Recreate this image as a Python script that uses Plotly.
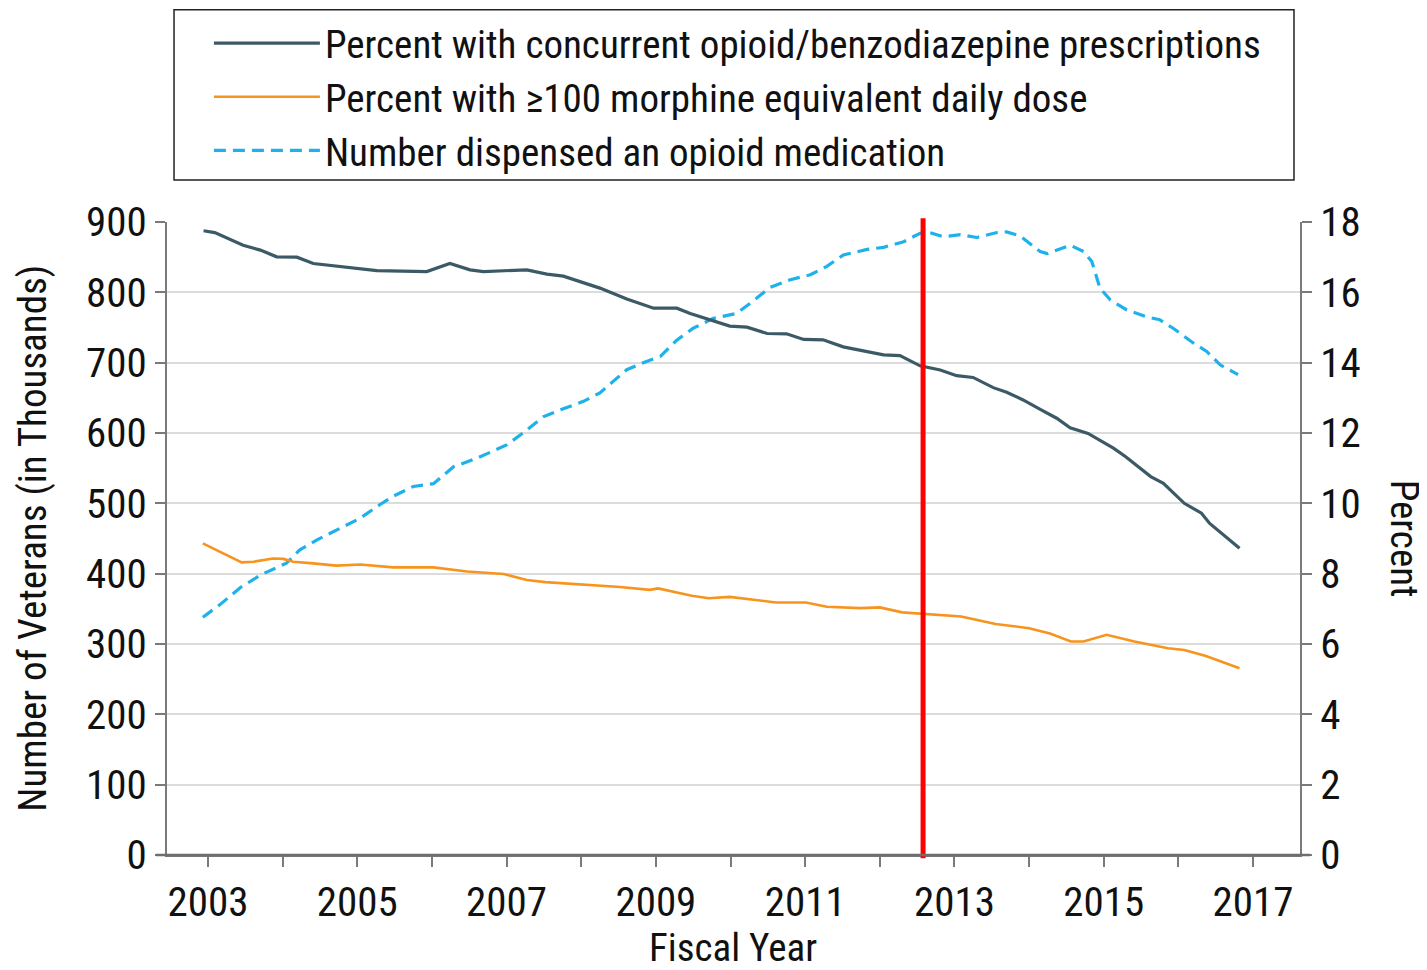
import plotly.graph_objects as go

# ---------------- data ----------------
conc_years = [2002.94, 2003.09, 2003.47, 2003.70, 2003.92, 2004.19, 2004.41, 2004.59, 2004.81,
              2005.26, 2005.93, 2006.24, 2006.51, 2006.69, 2007.27, 2007.54, 2007.76, 2008.25,
              2008.61, 2008.97, 2009.28, 2009.46, 2009.99, 2010.22, 2010.49, 2010.75, 2010.98,
              2011.24, 2011.51, 2011.83, 2012.05, 2012.27, 2012.54, 2012.81, 2013.03, 2013.25,
              2013.52, 2013.70, 2013.92, 2014.15, 2014.37, 2014.55, 2014.79, 2015.13, 2015.29,
              2015.63, 2015.80, 2016.08, 2016.31, 2016.42, 2016.82]
conc_pct = [17.75, 17.70, 17.34, 17.20, 17.01, 17.00, 16.82, 16.78, 16.71,
            16.62, 16.59, 16.82, 16.64, 16.59, 16.64, 16.52, 16.46, 16.12,
            15.81, 15.55, 15.55, 15.40, 15.04, 15.01, 14.83, 14.82, 14.66,
            14.65, 14.45, 14.31, 14.22, 14.20, 13.91, 13.79, 13.63, 13.58,
            13.29, 13.16, 12.94, 12.67, 12.42, 12.15, 11.99, 11.57, 11.33,
            10.76, 10.57, 10.00, 9.72, 9.43, 8.72]

mme_years = [2002.93, 2003.45, 2003.61, 2003.87, 2004.01, 2004.14, 2004.37, 2004.72, 2005.04,
             2005.48, 2006.02, 2006.47, 2006.96, 2007.27, 2007.52, 2008.02, 2008.52, 2008.92,
             2009.03, 2009.48, 2009.71, 2009.99, 2010.22, 2010.61, 2011.01, 2011.29, 2011.74,
             2012.00, 2012.30, 2012.64, 2013.09, 2013.55, 2014.00, 2014.28, 2014.56, 2014.73,
             2015.04, 2015.41, 2015.86, 2016.08, 2016.37, 2016.82]
mme_pct = [8.86, 8.32, 8.34, 8.43, 8.42, 8.34, 8.30, 8.23, 8.26,
           8.18, 8.18, 8.06, 7.99, 7.82, 7.76, 7.70, 7.62, 7.54,
           7.58, 7.37, 7.30, 7.34, 7.28, 7.18, 7.18, 7.06, 7.02,
           7.04, 6.90, 6.85, 6.78, 6.57, 6.45, 6.30, 6.07, 6.07,
           6.26, 6.07, 5.88, 5.83, 5.66, 5.31]

num_years = [2002.93, 2003.16, 2003.43, 2003.70, 2004.05, 2004.23, 2004.46, 2004.81, 2005.04,
             2005.30, 2005.48, 2005.75, 2006.02, 2006.29, 2006.60, 2007.00, 2007.22, 2007.49,
             2007.72, 2008.03, 2008.25, 2008.39, 2008.61, 2008.83, 2009.06, 2009.28, 2009.50,
             2009.77, 2010.08, 2010.26, 2010.53, 2010.80, 2011.07, 2011.29, 2011.51, 2011.83,
             2012.05, 2012.32, 2012.54, 2012.67, 2012.85, 2013.08, 2013.30, 2013.57, 2013.70,
             2013.88, 2014.15, 2014.24, 2014.55, 2014.73, 2014.84, 2014.95, 2015.09, 2015.31,
             2015.58, 2015.75, 2015.93, 2016.20, 2016.38, 2016.56, 2016.80]
num_thousands = [338, 356, 380, 398, 415, 434, 448, 467, 479,
                 498, 510, 524, 528, 552, 564, 583, 600, 623,
                 633, 645, 657, 670, 690, 700, 709, 732, 749,
                 763, 770, 784, 807, 818, 825, 837, 853, 861,
                 864, 872, 884, 885, 879, 882, 878, 885, 886,
                 880, 858, 855, 867, 858, 844, 806, 789, 775,
                 765, 761, 749, 728, 716, 697, 683]

marker_year = 2012.58

x_tick_years = list(range(2003, 2018))
x_tick_text = [str(y) if y % 2 == 1 else "" for y in x_tick_years]
left_ticks = list(range(0, 901, 100))
right_ticks = list(range(0, 19, 2))

names = ["Percent with concurrent opioid/benzodiazepine prescriptions",
         "Percent with \u2265100 morphine equivalent daily dose",
         "Number dispensed an opioid medication"]

# ---------------- figure ----------------
FONT = "Liberation Sans Narrow, Arial Narrow, Roboto Condensed, Liberation Sans, sans-serif"
TXT = "#111111"
fig = go.Figure()
fig.add_trace(go.Scatter(x=conc_years, y=conc_pct, mode="lines", name=names[0],
                         yaxis="y2", line=dict(color="#3b5a66", width=3.2)))
fig.add_trace(go.Scatter(x=mme_years, y=mme_pct, mode="lines", name=names[1],
                         yaxis="y2", line=dict(color="#f7941d", width=2.6)))
fig.add_trace(go.Scatter(x=num_years, y=num_thousands, mode="lines", name=names[2],
                         yaxis="y", line=dict(color="#1fb1ec", width=3.2, dash="12px,7px")))

fig.add_shape(type="line", x0=marker_year, x1=marker_year, xref="x", yref="paper",
              y0=-0.005, y1=1.006, line=dict(color="#ff0000", width=5))
# extended baseline (x-axis line runs slightly beyond both y axes)
fig.add_shape(type="line", xref="paper", yref="paper", x0=-0.0097, x1=1.0088, y0=0, y1=0,
              line=dict(color="#6e6e6e", width=2.5), layer="above")
# legend frame
fig.add_shape(type="rect", xref="paper", yref="paper", x0=0.0062, x1=0.9947,
              y0=1.0664, y1=1.3355, line=dict(color="#222222", width=1.5))

axis_common = dict(showline=True, linecolor="#7a7a7a", linewidth=2, ticks="outside",
                   ticklen=10, tickwidth=2, tickcolor="#7a7a7a", automargin=False,
                   tickfont=dict(family=FONT, size=41, color=TXT))

fig.update_layout(
    width=1419, height=962,
    margin=dict(l=159, r=127, t=214, b=115, autoexpand=False),
    paper_bgcolor="white", plot_bgcolor="white",
    font=dict(family=FONT, size=39, color=TXT),
    xaxis=dict(range=[2002.45, 2017.63], tickvals=x_tick_years, ticktext=x_tick_text,
               showgrid=False, zeroline=False, **axis_common),
    yaxis=dict(range=[0, 900], tickvals=left_ticks, showgrid=True, gridcolor="#dcdcdc",
               gridwidth=2, zeroline=False, **axis_common),
    yaxis2=dict(range=[0, 18], tickvals=right_ticks, overlaying="y", side="right",
                showgrid=False, zeroline=False, **axis_common),
    showlegend=True,
    legend=dict(x=0.037, y=1.333, xanchor="left", yanchor="top", bgcolor="rgba(0,0,0,0)",
                borderwidth=0, itemwidth=106, font=dict(family=FONT, size=39, color=TXT),
                tracegroupgap=0),
    annotations=[
        dict(text="Number of Veterans (in Thousands)", xref="paper", yref="paper",
             x=-0.119, y=0.5, textangle=-90, showarrow=False, xanchor="center", yanchor="middle",
             font=dict(family=FONT, size=39, color=TXT)),
        dict(text="Percent", xref="paper", yref="paper",
             x=1.0925, y=0.5, textangle=90, showarrow=False, xanchor="center", yanchor="middle",
             font=dict(family=FONT, size=39, color=TXT)),
        dict(text="Fiscal Year", xref="paper", yref="paper",
             x=0.4996, y=-0.147, showarrow=False, xanchor="center", yanchor="middle",
             font=dict(family=FONT, size=39, color=TXT)),
    ],
)

fig.write_html("out.html")
